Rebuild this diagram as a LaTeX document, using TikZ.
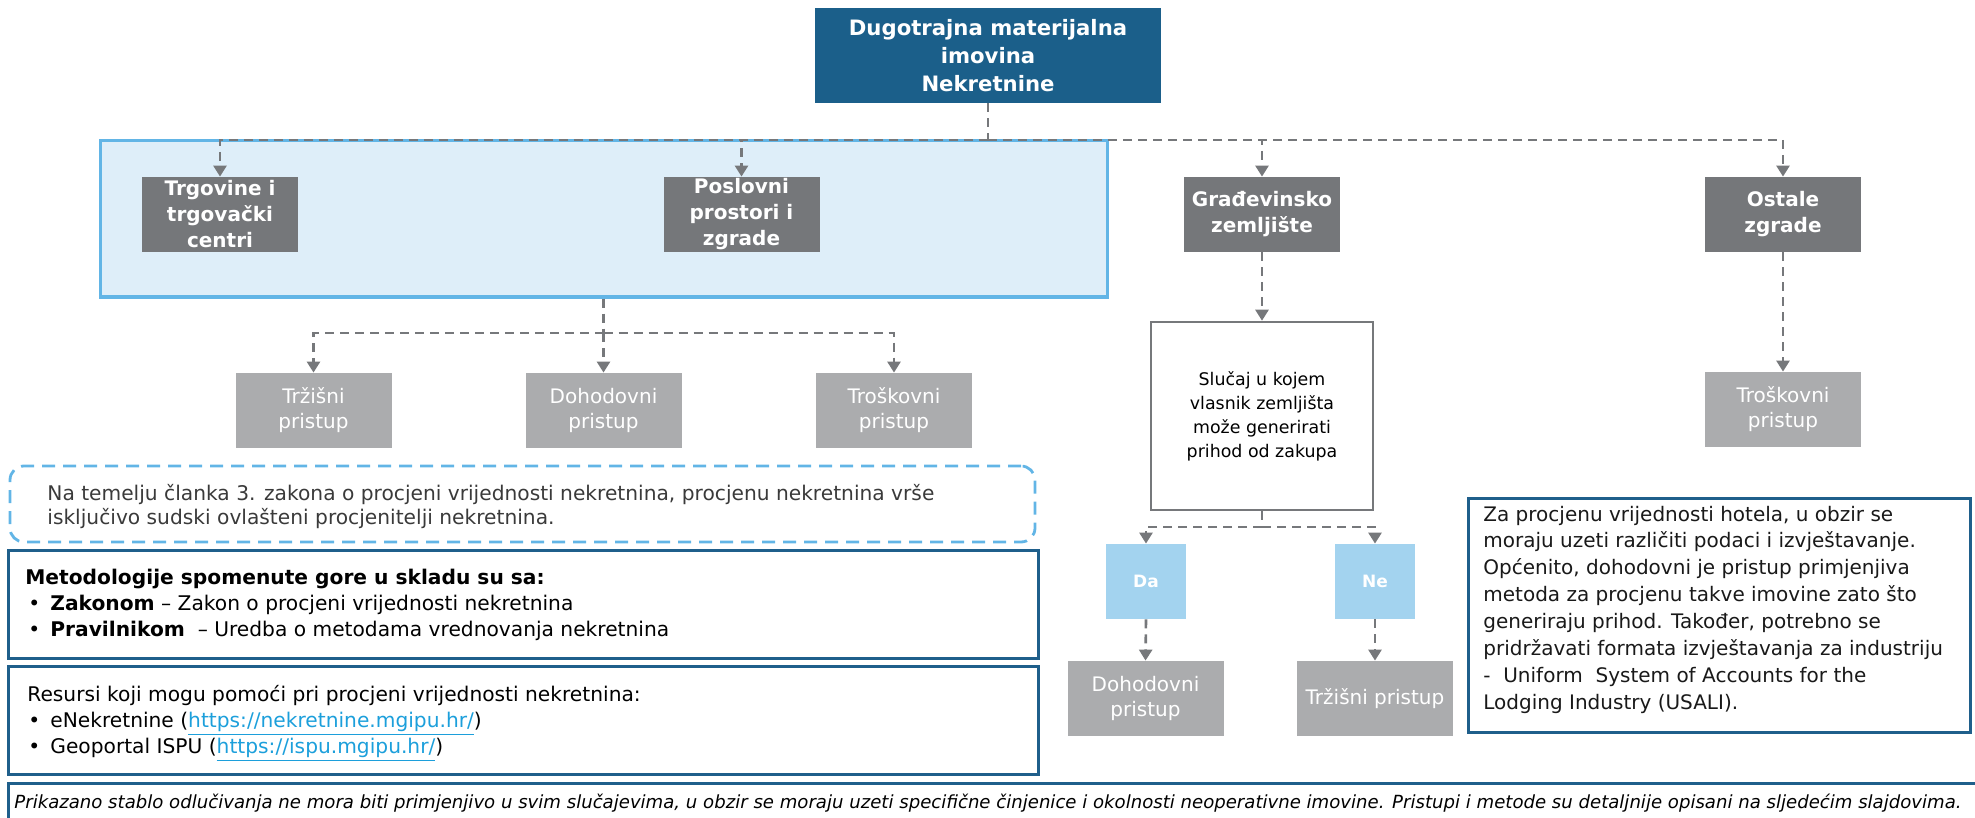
\documentclass[tikz,border=0pt]{standalone}
\usepackage{fontspec}
\setmainfont{DejaVu Sans}
\usetikzlibrary{arrows.meta}
\definecolor{topblue}{HTML}{1B5F8A}
\definecolor{dgray}{HTML}{75777A}
\definecolor{lgray}{HTML}{ABACAE}
\definecolor{ynblue}{HTML}{A3D3EF}
\definecolor{grpfill}{HTML}{DEEEF9}
\definecolor{grpline}{HTML}{62B5E6}
\definecolor{dblue}{HTML}{1F5F8B}
\definecolor{lineg}{HTML}{76787B}
\definecolor{linkc}{HTML}{1C9FDB}
\definecolor{notetext}{HTML}{3A3A3A}
\newcommand{\weblink}[1]{{\color{linkc}\underline{#1}}}
\newcommand{\bul}{\makebox[11pt][l]{•}}
\begin{document}
\begin{tikzpicture}[x=0.5pt,y=-0.5pt,
  dbox/.style={fill=dgray, text=white, font=\fontsize{10pt}{13pt}\selectfont\bfseries, align=center, minimum width=78pt, minimum height=37.5pt, inner sep=0},
  lbox/.style={fill=lgray, text=white, font=\fontsize{10pt}{12.5pt}\selectfont, align=center, minimum width=78pt, minimum height=37.5pt, inner sep=0},
  ynbox/.style={fill=ynblue, text=white, font=\fontsize{8.5pt}{10pt}\selectfont\bfseries, minimum width=40pt, minimum height=37.5pt, inner sep=0},
  frame/.style={draw=dblue, line width=1.5pt, inner sep=0},
  ln/.style={anchor=base west, inner sep=0, font=\fontsize{10.1pt}{12pt}\selectfont},
  hl/.style={anchor=base west, inner sep=0, font=\fontsize{10pt}{12pt}\selectfont, text=black!90},
  conn/.style={draw=lineg, line width=1.3pt, dash pattern=on 4.5pt off 3pt},
  arr/.style={conn, -{Triangle[width=6.5pt,length=5.5pt]}}
]
\useasboundingbox (0,0) rectangle (1975,818);
\clip (0,0) rectangle (1975,818);

% group container
\node[draw=grpline, fill=grpfill, line width=1.5pt, minimum width=503.5pt, minimum height=78pt, inner sep=0] (grp) at (603.5,219) {};

% top node
\node[fill=topblue, text=white, font=\fontsize{10.6pt}{14.2pt}\selectfont\bfseries, align=center, minimum width=173pt, minimum height=47.5pt, inner sep=0] (top) at (988,55.5) {Dugotrajna materijalna\\imovina\\Nekretnine};

% first level
\node[dbox] (trg) at (220,214.5) {Trgovine i\\trgovački\\centri};
\node[dbox] (pos) at (741.5,214.5) {Poslovni\\prostori i\\zgrade};
\node[dbox] (gra) at (1262,214.5) {Građevinsko\\zemljište};
\node[dbox] (ost) at (1783,214.5) {Ostale\\zgrade};

% approaches
\node[lbox] (trz) at (313.5,410.5) {Tržišni\\pristup};
\node[lbox] (doh) at (603.5,410.5) {Dohodovni\\pristup};
\node[lbox] (tro) at (894,410.5) {Troškovni\\pristup};
\node[lbox] (tro2) at (1783,409.5) {Troškovni\\pristup};

% land branch
\node[draw=lineg, line width=1.3pt, fill=white, font=\fontsize{8.7pt}{12pt}\selectfont, align=center, minimum width=111pt, minimum height=94pt, inner sep=0] (slu) at (1262,416) {Slučaj u kojem\\vlasnik zemljišta\\može generirati\\prihod od zakupa};
\node[ynbox] (da) at (1146,581.5) {Da};
\node[ynbox] (ne) at (1375,581.5) {Ne};
\node[lbox] (doh2) at (1145.5,698.5) {Dohodovni\\pristup};
\node[lbox] (trz2) at (1375,698.5) {Tržišni pristup};

% connectors
\coordinate (hub1) at (988,140);
\coordinate (hub2) at (603.5,333);
\coordinate (hub3) at (1262,527);
\draw[conn] (top.south) -- (hub1);
\draw[arr] (hub1) -| (trg.north);
\draw[arr] (hub1) -| (pos.north);
\draw[arr] (hub1) -| (gra.north);
\draw[arr] (hub1) -| (ost.north);
\draw[conn] (grp.south) -- (hub2);
\draw[arr] (hub2) -| (trz.north);
\draw[arr] (hub2) -- (doh.north);
\draw[arr] (hub2) -| (tro.north);
\draw[arr] (gra.south) -- (slu.north);
\draw[arr] (ost.south) -- (tro2.north);
\draw[conn] (slu.south) -- (hub3);
\draw[arr] (hub3) -| (da.north);
\draw[arr] (hub3) -| (ne.north);
\draw[arr] (da.south) -- (doh2.north);
\draw[arr] (ne.south) -- (trz2.north);

% note box
\node[draw=grpline, line width=1.4pt, dash pattern=on 6.5pt off 4pt, rounded corners=7pt, minimum width=512.5pt, minimum height=38pt, inner sep=0] (note) at (522.5,504) {};
\node[ln, text=notetext] (note1) at (47,500) {Na temelju članka 3. zakona o procjeni vrijednosti nekretnina, procjenu nekretnina vrše};
\node[ln, text=notetext] (note2) at (47,524) {isključivo sudski ovlašteni procjenitelji nekretnina.};

% methodology box
\node[frame, minimum width=515pt, minimum height=54pt] (met) at (523,604) {};
\node[ln] (met1) at (25,584) {\bfseries Metodologije spomenute gore u skladu su sa:};
\node[ln] (met2) at (28,610) {\bul\textbf{Zakonom} – Zakon o procjeni vrijednosti nekretnina};
\node[ln] (met3) at (28,636) {\bul\textbf{Pravilnikom} \ – Uredba o metodama vrednovanja nekretnina};

% resources box
\node[frame, minimum width=515pt, minimum height=54pt] (res) at (523,720) {};
\node[ln] (res1) at (27,701) {Resursi koji mogu pomoći pri procjeni vrijednosti nekretnina:};
\node[ln] (res2) at (28,727) {\bul eNekretnine (\weblink{https://nekretnine.mgipu.hr/})};
\node[ln] (res3) at (28,753) {\bul Geoportal ISPU (\weblink{https://ispu.mgipu.hr/})};

% hotel box
\node[frame, minimum width=251pt, minimum height=117pt] (hot) at (1719,615) {};
\node[hl] (h1) at (1483,521) {Za procjenu vrijednosti hotela, u obzir se};
\node[hl] (h2) at (1483,547.9) {moraju uzeti različiti podaci i izvještavanje.};
\node[hl] (h3) at (1483,574.8) {Općenito, dohodovni je pristup primjenjiva};
\node[hl] (h4) at (1483,601.7) {metoda za procjenu takve imovine zato što};
\node[hl] (h5) at (1483,628.6) {generiraju prihod. Također, potrebno se};
\node[hl] (h6) at (1483,655.5) {pridržavati formata izvještavanja za industriju};
\node[hl] (h7) at (1483,682.4) {- \ Uniform \ System of Accounts for the};
\node[hl] (h8) at (1483,709.3) {Lodging Industry (USALI).};

% footer
\node[frame, minimum width=991pt, minimum height=28pt] (foot) at (999,811) {};
\node[ln, font=\fontsize{9.05pt}{10pt}\selectfont\itshape] (foot1) at (14,808) {Prikazano stablo odlučivanja ne mora biti primjenjivo u svim slučajevima, u obzir se moraju uzeti specifične činjenice i okolnosti neoperativne imovine. Pristupi i metode su detaljnije opisani na sljedećim slajdovima.};
\end{tikzpicture}
\end{document}
